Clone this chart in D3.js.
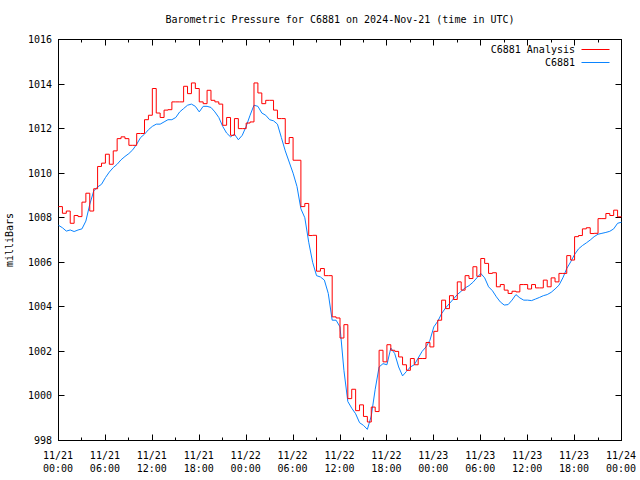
<!DOCTYPE html>
<html><head><meta charset="utf-8">
<script src="https://cdn.jsdelivr.net/npm/d3@7"></script>
<style>body{margin:0;background:#fff}svg text{font-family:"DejaVu Sans Mono","Liberation Mono",monospace;font-size:10px;fill:#000}</style>
</head><body>
<svg id="c" width="640" height="480"></svg>
<script>
const title = "Barometric Pressure for C6881 on 2024-Nov-21 (time in UTC)";
const yLabel = "milliBars";
const seriesNames = ["C6881 Analysis", "C6881"];
const startTime = "2024-11-21T00:00:00Z";
const stepMinutes = 30;
const yTicks = [998, 1000, 1002, 1004, 1006, 1008, 1010, 1012, 1014, 1016];
const xTickLabels = [["11/21","00:00"],["11/21","06:00"],["11/21","12:00"],["11/21","18:00"],["11/22","00:00"],["11/22","06:00"],["11/22","12:00"],["11/22","18:00"],["11/23","00:00"],["11/23","06:00"],["11/23","12:00"],["11/23","18:00"],["11/24","00:00"]];

const analysis = [
1008.5,1008.2,1008.3,1007.75,1008.1,1008.05,1008.7,1009.1,1008.3,1009.3,
1010.3,1010.45,1010.85,1010.4,1011.0,1011.55,1011.63,1011.55,1011.25,1011.25,
1011.78,1011.78,1012.4,1012.6,1013.8,1012.7,1012.5,1012.83,1012.85,1013.2,
1013.2,1013.2,1013.9,1013.57,1014.05,1013.8,1013.2,1013.12,1013.72,1013.27,
1013.2,1013.1,1012.15,1012.5,1011.7,1012.45,1012.0,1012.0,1012.25,1012.3,
1014.05,1013.6,1013.12,1013.27,1013.27,1012.83,1012.45,1012.45,1011.33,1011.6,
1010.58,1010.58,1008.5,1008.64,1007.2,1007.21,1005.6,1005.72,1005.4,1005.4,
1003.55,1003.5,1002.6,1003.2,999.88,1000.3,999.34,999.6,999.08,998.83,
999.5,999.3,1002.05,1001.53,1002.3,1002.05,1002.0,1001.75,1001.4,1001.15,
1001.68,1001.4,1001.68,1001.68,1002.4,1002.2,1002.9,1003.4,1004.3,1003.92,
1004.5,1004.33,1005.12,1004.75,1005.4,1005.27,1005.8,1005.37,1006.17,1005.95,
1005.5,1005.53,1004.9,1005.0,1004.75,1004.6,1004.7,1004.67,1005.0,1005.0,
1004.8,1005.0,1004.85,1004.85,1005.2,1004.9,1005.3,1005.12,1005.5,1005.5,
1006.3,1006.1,1007.15,1007.2,1007.5,1007.55,1007.29,1007.3,1007.96,1007.96,
1008.19,1008.1,1008.34,1008.04,1008.04];

const observed = [
1007.66,1007.55,1007.4,1007.45,1007.38,1007.45,1007.5,1007.85,1008.6,1009.2,
1009.38,1009.5,1009.8,1010.05,1010.25,1010.4,1010.6,1010.75,1010.88,1011.05,
1011.3,1011.6,1011.75,1011.95,1012.1,1012.2,1012.2,1012.3,1012.4,1012.4,
1012.5,1012.75,1012.9,1013.05,1013.1,1013.0,1012.75,1013.0,1013.0,1012.95,
1012.75,1012.5,1012.1,1011.8,1011.63,1011.75,1011.5,1011.7,1012.1,1012.6,
1013.05,1013.0,1012.7,1012.6,1012.4,1012.35,1012.2,1011.6,1011.0,1010.5,
1010.0,1009.4,1008.4,1008.0,1006.9,1006.0,1005.4,1005.34,1005.2,1004.6,
1003.4,1003.4,1003.1,1001.15,999.75,999.45,999.2,998.8,998.68,998.5,
999.1,1000.3,1001.3,1001.45,1001.4,1002.15,1001.9,1001.3,1000.9,1001.1,
1001.3,1001.4,1001.7,1002.0,1002.2,1002.5,1003.1,1003.35,1003.7,1003.95,
1004.15,1004.35,1004.55,1004.7,1004.85,1004.95,1005.1,1005.3,1005.5,1005.3,
1004.9,1004.72,1004.45,1004.22,1004.08,1004.1,1004.3,1004.55,1004.4,1004.3,
1004.3,1004.28,1004.35,1004.42,1004.5,1004.55,1004.65,1004.8,1004.97,1005.3,
1005.72,1006.02,1006.35,1006.6,1006.75,1006.87,1007.0,1007.15,1007.26,1007.3,
1007.34,1007.39,1007.5,1007.75,1007.8];

const t0 = new Date(startTime);
const tEnd = d3.utcHour.offset(t0, 72);
const times = analysis.map((_, i) => d3.utcMinute.offset(t0, i * stepMinutes));

const L = 58, R = 621, T = 39, B = 440;
const svg = d3.select("#c");
const g = svg.append("g").attr("transform", "translate(0.5,0.5)");
const x = d3.scaleUtc().domain([t0, tEnd]).range([L, R]);
const y = d3.scaleLinear().domain([998, 1016]).range([B, T]);

// border
g.append("rect").attr("x", L).attr("y", T).attr("width", R - L).attr("height", B - T)
  .attr("fill", "none").attr("stroke", "#000").attr("stroke-width", 1);

// x ticks (major every 6h, minor every 3h), bottom + top mirrored
const minorT = d3.utcHour.every(3).range(t0, d3.utcHour.offset(tEnd, 1));
minorT.forEach(t => {
  const major = t.getUTCHours() % 6 === 0;
  const len = major ? 6 : 3;
  const xx = Math.round(x(t));
  g.append("line").attr("x1", xx).attr("x2", xx).attr("y1", B).attr("y2", B - len).attr("stroke", "#000");
  g.append("line").attr("x1", xx).attr("x2", xx).attr("y1", T).attr("y2", T + len).attr("stroke", "#000");
});
// y ticks left + right
yTicks.forEach(v => {
  const yy = Math.round(y(v));
  g.append("line").attr("x1", L).attr("x2", L + 6).attr("y1", yy).attr("y2", yy).attr("stroke", "#000");
  g.append("line").attr("x1", R).attr("x2", R - 6).attr("y1", yy).attr("y2", yy).attr("stroke", "#000");
  svg.append("text").attr("x", 52).attr("y", yy + 4).attr("text-anchor", "end").text(v);
});
// x tick labels
const majorT = d3.utcHour.every(6).range(t0, d3.utcHour.offset(tEnd, 1));
majorT.forEach((t, i) => {
  const xx = x(t);
  const lab = xTickLabels[i];
  svg.append("text").attr("x", xx).attr("y", 459).attr("text-anchor", "middle").text(lab[0]);
  svg.append("text").attr("x", xx).attr("y", 472).attr("text-anchor", "middle").text(lab[1]);
});

// title and axis label
svg.append("text").attr("x", 340).attr("y", 23).attr("text-anchor", "middle").text(title);
svg.append("text").attr("transform", "translate(13,240) rotate(-90)").attr("text-anchor", "middle").text(yLabel);

const colors = ["#ff0000", "#0a84ff"];
const lineStep = d3.line().x((d, i) => x(times[i])).y(d => y(d)).curve(d3.curveStepAfter);
const lineLin = d3.line().x((d, i) => x(times[i])).y(d => y(d));
g.append("path").datum(observed).attr("d", lineLin).attr("fill", "none").attr("stroke", colors[1]).attr("stroke-width", 1);
g.append("path").datum(analysis).attr("d", lineStep).attr("fill", "none").attr("stroke", colors[0]).attr("stroke-width", 1);

// legend
seriesNames.forEach((n, i) => {
  const ly = 49 + i * 13;
  svg.append("text").attr("x", 575).attr("y", ly + 4).attr("text-anchor", "end").text(n);
  g.append("line").attr("x1", 581).attr("x2", 609).attr("y1", ly).attr("y2", ly).attr("stroke", colors[i]);
});
</script>
</body></html>
